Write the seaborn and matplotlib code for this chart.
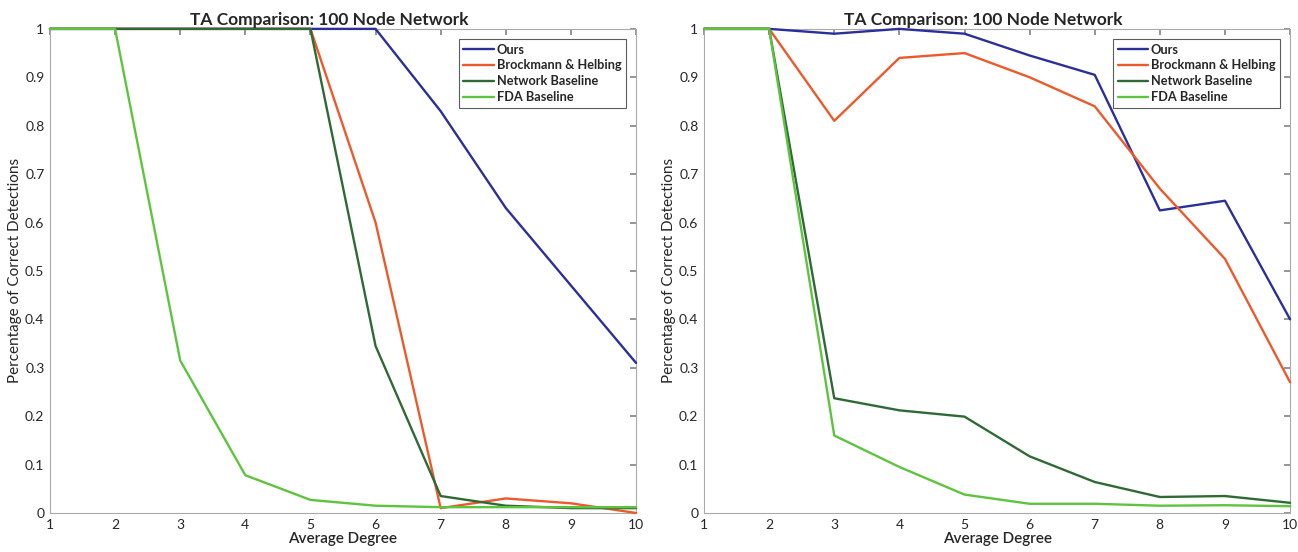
import numpy as np
import pandas as pd
import seaborn as sns
import matplotlib
matplotlib.use("Agg")
import matplotlib.pyplot as plt

degrees = [1, 2, 3, 4, 5, 6, 7, 8, 9, 10]
series_names = ["Ours", "Brockmann & Helbing", "Network Baseline", "FDA Baseline"]

left_ours = [1, 1, 1, 1, 1, 1.0, 0.83, 0.63, 0.47, 0.31]
left_brock = [1, 1, 1, 1, 1, 0.60, 0.01, 0.03, 0.02, 0.0]
left_network = [1, 1, 1, 1, 1, 0.345, 0.035, 0.015, 0.01, 0.01]
left_fda = [1, 1, 0.315, 0.078, 0.027, 0.015, 0.012, 0.012, 0.012, 0.012]

right_ours = [1, 1, 0.99, 1.0, 0.99, 0.945, 0.905, 0.625, 0.645, 0.40]
right_brock = [1, 1, 0.81, 0.94, 0.95, 0.90, 0.84, 0.67, 0.525, 0.27]
right_network = [1, 1, 0.237, 0.212, 0.199, 0.117, 0.064, 0.033, 0.035, 0.021]
right_fda = [1, 1, 0.16, 0.095, 0.038, 0.019, 0.019, 0.015, 0.016, 0.014]

titles = ["TA Comparison: 100 Node Network", "TA Comparison: 100 Node Network"]
xlabel = "Average Degree"
ylabel = "Percentage of Correct Detections"
yticks = [0, 0.1, 0.2, 0.3, 0.4, 0.5, 0.6, 0.7, 0.8, 0.9, 1]
ytick_labels = ["0", "0.1", "0.2", "0.3", "0.4", "0.5", "0.6", "0.7", "0.8", "0.9", "1"]

colors = {"Ours": "#2b2f9a", "Brockmann & Helbing": "#ec5a2c",
          "Network Baseline": "#2f6a36", "FDA Baseline": "#5ec43f"}


def make_df(vals):
    rows = []
    for name, v in zip(series_names, vals):
        for d, y in zip(degrees, v):
            rows.append({"degree": d, "value": y, "series": name})
    return pd.DataFrame(rows)


sns.set_theme(style="white")
plt.rcParams["font.family"] = ["Lato", "DejaVu Sans"]

fig = plt.figure(figsize=(12.98, 5.52), dpi=100)
ax1 = fig.add_axes([0.0385, 0.0707, 0.4515, 0.877])
ax2 = fig.add_axes([0.5424, 0.0707, 0.4515, 0.877])

dfs = [make_df([left_ours, left_brock, left_network, left_fda]),
       make_df([right_ours, right_brock, right_network, right_fda])]

for ax, df, title in zip([ax1, ax2], dfs, titles):
    sns.lineplot(data=df, x="degree", y="value", hue="series", palette=colors,
                 hue_order=series_names, ax=ax, linewidth=1.7, sort=False)
    for ln in ax.get_lines():
        ln.set_clip_on(False)
        ln.set_zorder(3)
    ax.set_xlim(1, 10)
    ax.set_ylim(0, 1)
    ax.set_xticks(degrees)
    ax.set_xticklabels([str(d) for d in degrees], fontsize=10)
    ax.set_yticks(yticks)
    ax.set_yticklabels(ytick_labels, fontsize=10)
    ax.set_title(title, fontsize=12.5, fontweight="bold", pad=3, x=0.476)
    ax.set_xlabel(xlabel, fontsize=11, labelpad=1, fontweight="semibold")
    ax.set_ylabel(ylabel, fontsize=11, labelpad=2)
    ax.tick_params(direction="in", length=4, top=True, right=True,
                   color="#888888", pad=4)
    for s in ax.spines.values():
        s.set_color("#aaaaaa")
        s.set_linewidth(0.8)
    leg = ax.legend(loc="upper right", fontsize=9.2, frameon=True,
                    fancybox=False, edgecolor="#333333", borderpad=0.35,
                    handlelength=2.4, handletextpad=0.2, labelspacing=0.3,
                    borderaxespad=0.8)
    leg.set_zorder(5)
    leg.get_frame().set_linewidth(0.8)
    for t in leg.get_texts():
        t.set_fontweight("bold")
    for l in leg.get_lines():
        l.set_linewidth(1.7)

fig.savefig("out.png", dpi=100)
